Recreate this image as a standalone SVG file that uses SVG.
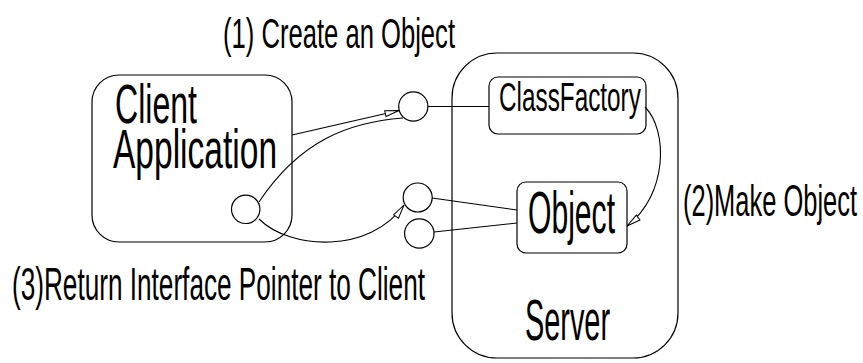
<svg xmlns="http://www.w3.org/2000/svg" width="863" height="363" viewBox="0 0 863 363">
<style>
.box{fill:none;stroke:#000;stroke-width:1.2}
.ln{fill:none;stroke:#000;stroke-width:1.1}
.t{font-family:"Liberation Sans",Arial,sans-serif;fill:#000}
</style>
<defs>
<marker id="arr" viewBox="0 0 16 8" refX="15" refY="4" markerWidth="16" markerHeight="8" markerUnits="userSpaceOnUse" orient="auto">
<path d="M1,1 L15,4 L1,7 Z" fill="#fff" stroke="#000" stroke-width="1"/>
</marker>
</defs>
<rect width="863" height="363" fill="#fff"/>
<g id="server">
<rect class="box" x="452" y="53" width="226" height="305" rx="45"/>
<text class="t" transform="translate(525,340) scale(0.498,1)" font-size="58">Server</text>
</g>
<g id="client">
<rect class="box" x="92" y="75" width="200" height="167" rx="27"/>
<text class="t" transform="translate(115,123) scale(0.573,1)" font-size="56">Client</text>
<text class="t" transform="translate(113,168) scale(0.599,1)" font-size="56">Application</text>
</g>
<g id="client-port">
<circle class="box" cx="245.7" cy="209.3" r="14.2"/>
</g>
<g id="classfactory">
<rect class="box" x="489" y="77" width="157" height="57" rx="9"/>
<text class="t" transform="translate(499,111) scale(0.608,1)" font-size="40">ClassFactory</text>
</g>
<g id="object">
<rect class="box" x="517" y="182" width="110" height="71" rx="9"/>
<text class="t" transform="translate(528,233) scale(0.502,1)" font-size="60">Object</text>
</g>
<g id="port-factory">
<circle class="box" cx="413.3" cy="106.5" r="14.6"/>
</g>
<g id="port-object-1">
<circle class="box" cx="417.7" cy="197.5" r="14.5"/>
</g>
<g id="port-object-2">
<circle class="box" cx="419.3" cy="233.5" r="14.7"/>
</g>
<g id="connectors">
<line class="ln" x1="428" y1="106.5" x2="489" y2="106.5"/>
<line class="ln" x1="432" y1="198" x2="517" y2="210"/>
<line class="ln" x1="434" y1="232" x2="517" y2="223"/>
<line class="ln" x1="292" y1="135" x2="399" y2="110.5" marker-end="url(#arr)"/>
<path class="ln" d="M259,202 C300,140 350,122 403,118"/>
<path class="ln" d="M259,219 C290,250 370,254 404,205" marker-end="url(#arr)"/>
<path class="ln" d="M645,107 C668,130 668,195 627,226" marker-end="url(#arr)"/>
</g>
<g id="labels">
<text class="t" transform="translate(223,48) scale(0.596,1)" font-size="43">(1) Create an Object</text>
<text class="t" transform="translate(683,216) scale(0.566,1)" font-size="45">(2)Make Object</text>
<text class="t" transform="translate(12,300) scale(0.569,1)" font-size="46">(3)Return Interface Pointer to Client</text>
</g>
</svg>
